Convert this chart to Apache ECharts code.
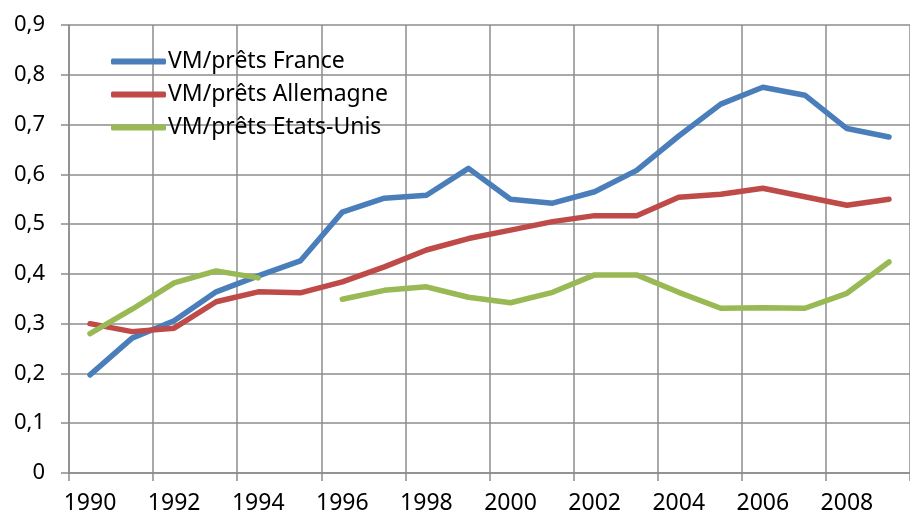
<!DOCTYPE html>
<html>
<head>
<meta charset="utf-8">
<script src="https://cdn.jsdelivr.net/npm/echarts@6/dist/echarts.min.js"></script>
<style>
  html, body { margin: 0; padding: 0; background: #fff; }
  #chart { width: 910px; height: 518px; }
</style>
</head>
<body>
<div id="chart"></div>
<script>
  'use strict'

  // years on the category axis
  var years = ['1990', '1991', '1992', '1993', '1994', '1995', '1996', '1997', '1998', '1999',
               '2000', '2001', '2002', '2003', '2004', '2005', '2006', '2007', '2008', '2009'];

  var france = [0.197, 0.271, 0.306, 0.364, 0.396, 0.426, 0.524, 0.552, 0.558, 0.612,
                0.550, 0.542, 0.565, 0.608, 0.677, 0.741, 0.775, 0.759, 0.692, 0.675];

  var allemagne = [0.300, 0.284, 0.291, 0.344, 0.364, 0.362, 0.384, 0.414, 0.448, 0.471,
                   0.488, 0.505, 0.517, 0.517, 0.554, 0.560, 0.572, 0.555, 0.538, 0.550];

  // no value for 1995
  var etatsUnis = [0.280, 0.329, 0.382, 0.406, 0.392, null, 0.349, 0.367, 0.374, 0.353,
                   0.342, 0.363, 0.398, 0.398, 0.363, 0.331, 0.332, 0.331, 0.361, 0.424];

  var seriesNames = ['VM/prêts France', 'VM/prêts Allemagne', 'VM/prêts Etats-Unis'];
  var gridColor = '#8c8c8c';
  var font = 'Noto Sans';

  function makeLine(name, data) {
    return {
      name: name,
      type: 'line',
      data: data,
      symbol: 'none',
      connectNulls: false,
      lineStyle: { width: 5.5, cap: 'round', join: 'round' }
    };
  }

  var option = {
    animation: false,
    color: ['#4a7ebb', '#be4b48', '#98b954'],
    grid: { left: 69, top: 25, right: -11, bottom: 45 },
    legend: {
      orient: 'vertical',
      left: 106,
      top: 44,
      icon: 'roundRect',
      itemWidth: 55,
      itemHeight: 6,
      itemGap: 8,
      data: seriesNames,
      textStyle: { fontFamily: font, fontSize: 23, color: '#000', lineHeight: 25, padding: [0, 0, 0, -3] }
    },
    xAxis: {
      type: 'category',
      data: years,
      boundaryGap: true,
      axisLine: { lineStyle: { color: gridColor, width: 1.5 } },
      axisTick: { show: true, interval: 1, length: 8, lineStyle: { color: gridColor, width: 1.5 } },
      axisLabel: { interval: 1, margin: 19, fontFamily: font, fontSize: 23, color: '#000' },
      splitLine: { show: true, interval: 1, lineStyle: { color: gridColor, width: 1.5 } }
    },
    yAxis: {
      type: 'value',
      min: 0,
      max: 0.9,
      interval: 0.1,
      axisLine: { show: true, lineStyle: { color: gridColor, width: 1.5 } },
      axisTick: { show: true, length: 8, lineStyle: { color: gridColor, width: 1.5 } },
      axisLabel: {
        margin: 24,
        fontFamily: font,
        fontSize: 22,
        color: '#000',
        formatter: function (v) { return (Math.round(v * 10) / 10).toString().replace('.', ','); }
      },
      splitLine: { lineStyle: { color: gridColor, width: 1.5 } }
    },
    series: [
      makeLine(seriesNames[0], france),
      makeLine(seriesNames[1], allemagne),
      makeLine(seriesNames[2], etatsUnis)
    ]
  };

  var chart = echarts.init(document.getElementById('chart'));
  chart.setOption(option);
</script>
</body>
</html>
